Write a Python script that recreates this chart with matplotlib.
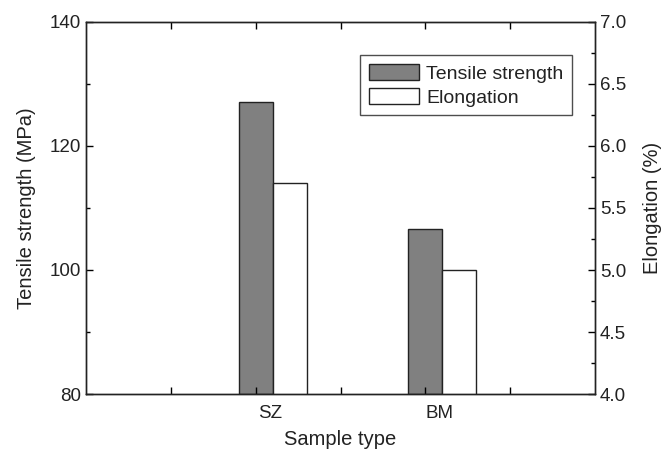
import numpy as np
import matplotlib
matplotlib.use("Agg")
import matplotlib.pyplot as plt
from matplotlib.ticker import MultipleLocator, FormatStrFormatter

plt.rcParams["font.family"] = ["Liberation Sans", "DejaVu Sans"]
plt.rcParams["text.color"] = "#222222"
plt.rcParams["axes.labelcolor"] = "#222222"
plt.rcParams["xtick.labelcolor"] = "#222222"
plt.rcParams["ytick.labelcolor"] = "#222222"

samples = ["SZ", "BM"]
sample_pos = [2, 4]
tensile = [127.1, 106.6]
elongation = [5.70, 5.00]

bar_w = 0.4

fig = plt.figure(figsize=(6.71, 4.5), dpi=100)
ax = fig.add_axes([0.128, 0.1244, 0.759, 0.8268])
ax2 = ax.twinx()

x = np.array(sample_pos, dtype=float)

b1 = ax.bar(x, np.array(tensile) - 80, bottom=80, width=bar_w,
            color="#808080", edgecolor="#222222", linewidth=1.0,
            label="Tensile strength")
b2 = ax2.bar(x + bar_w, np.array(elongation) - 4, bottom=4, width=bar_w,
             color="white", edgecolor="#222222", linewidth=1.0,
             label="Elongation")

ax.set_xlim(0, 6)
ax.set_ylim(80, 140)
ax2.set_ylim(4.0, 7.0)

# x ticks: unlabeled marks at 1..5, labels near the pair centres
ax.set_xticks([1, 2, 3, 4, 5])
ax.set_xticklabels([])
ax.set_xticks(x + 0.17, labels=samples, minor=True)
ax.tick_params(axis="x", which="major", direction="in", top=True,
               length=5, width=1)
ax.tick_params(axis="x", which="minor", length=0, pad=8, labelsize=13.5)

ax.yaxis.set_major_locator(MultipleLocator(20))
ax.yaxis.set_minor_locator(MultipleLocator(10))
ax.tick_params(axis="y", which="both", direction="in", right=False,
               labelsize=13.5, width=1)
ax.tick_params(axis="y", which="major", length=5)
ax.tick_params(axis="y", which="minor", length=3)

ax2.yaxis.set_major_locator(MultipleLocator(0.5))
ax2.yaxis.set_minor_locator(MultipleLocator(0.25))
ax2.yaxis.set_major_formatter(FormatStrFormatter("%.1f"))
ax2.tick_params(axis="y", which="both", direction="in", labelsize=13.5, width=1)
ax2.tick_params(axis="y", which="major", length=5)
ax2.tick_params(axis="y", which="minor", length=3)

for a in (ax, ax2):
    for s in a.spines.values():
        s.set_linewidth(1.0)
        s.set_color("#222222")

ax.set_xlabel("Sample type", fontsize=14.5, labelpad=6)
ax.set_ylabel("Tensile strength (MPa)", fontsize=14.5, labelpad=10)
ax2.set_ylabel("Elongation (%)", fontsize=14.5, labelpad=12)

leg = ax2.legend([b1, b2], ["Tensile strength", "Elongation"],
                 loc="upper right", bbox_to_anchor=(0.955, 0.91),
                 fontsize=14, frameon=True, fancybox=False,
                 handlelength=2.6, handleheight=0.9, handletextpad=0.35,
                 borderpad=0.45, labelspacing=0.25, borderaxespad=0)
leg.get_frame().set_edgecolor("#222222")
leg.get_frame().set_linewidth(1.0)

fig.savefig("out.png", dpi=100)
